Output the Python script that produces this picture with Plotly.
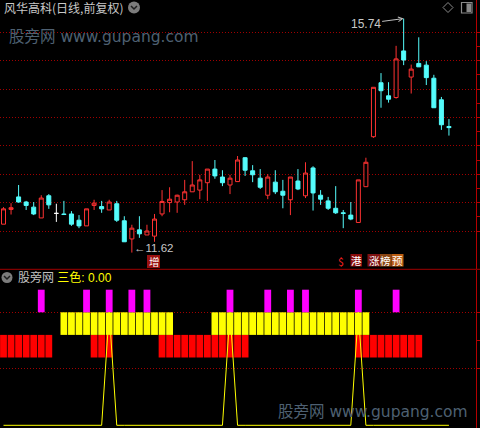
import plotly.graph_objects as go

# ---- daily bars (风华高科, 前复权) ----
bar_index = list(range(60))
opens = [12.12, 12.38, 12.60, 12.51, 12.42, 12.23, 12.62, 12.31, 12.30, 12.30,
         12.19, 12.09, 12.45, 12.43, 12.37, 12.48, 12.18, 11.86, 12.02, 11.93,
         11.91, 12.30, 12.50, 12.51, 12.55, 12.69, 12.72, 12.85, 13.09, 12.95,
         12.81, 12.87, 13.29, 13.06, 12.93, 12.63, 12.86, 12.70, 12.55, 12.88,
         12.62, 13.11, 12.63, 12.53, 12.40, 12.32, 12.28, 12.15, 12.78, 13.66,
         14.61, 14.38, 14.35, 15.17, 14.71, 14.95, 14.92, 14.69, 14.31, 13.84]
highs = [12.42, 12.49, 12.81, 12.53, 12.51, 12.63, 12.65, 12.48, 12.53, 12.35,
         12.28, 12.39, 12.55, 12.53, 12.55, 12.53, 12.26, 12.11, 12.26, 12.11,
         12.30, 12.72, 12.77, 12.64, 12.90, 13.23, 12.99, 13.09, 13.25, 13.07,
         12.99, 13.32, 13.30, 13.16, 13.09, 13.00, 13.07, 12.90, 12.95, 13.09,
         13.21, 13.14, 12.72, 12.60, 12.79, 12.37, 12.51, 12.90, 13.29, 14.53,
         14.78, 14.62, 15.26, 15.74, 14.93, 15.41, 14.99, 14.75, 14.36, 13.97]
lows = [12.12, 12.29, 12.50, 12.37, 12.28, 12.23, 12.39, 12.16, 12.29, 12.09,
        12.05, 12.09, 12.37, 12.32, 12.37, 12.16, 11.81, 11.62, 11.88, 11.93,
        11.81, 12.26, 12.33, 12.32, 12.46, 12.69, 12.56, 12.53, 12.92, 12.79,
        12.65, 12.87, 12.97, 12.86, 12.74, 12.56, 12.65, 12.40, 12.28, 12.72,
        12.58, 12.36, 12.46, 12.37, 12.30, 12.05, 12.19, 12.15, 12.78, 13.64,
        14.17, 14.26, 14.33, 14.92, 14.42, 14.89, 14.57, 14.17, 13.78, 13.68]
closes = [12.39, 12.41, 12.51, 12.45, 12.30, 12.58, 12.46, 12.31, 12.29, 12.12,
          12.09, 12.39, 12.49, 12.39, 12.51, 12.19, 11.81, 12.05, 11.95, 12.00,
          12.21, 12.52, 12.56, 12.63, 12.69, 12.81, 12.90, 13.09, 12.97, 12.85,
          12.93, 13.25, 13.07, 12.99, 12.77, 12.95, 12.69, 12.63, 12.95, 12.74,
          13.02, 12.67, 12.56, 12.40, 12.32, 12.31, 12.21, 12.90, 13.21, 14.53,
          14.47, 14.32, 15.03, 15.01, 14.85, 14.89, 14.70, 14.17, 13.87, 13.82]
flat_bar = 7          # open == close, drawn as a white cross

# ---- 三色 indicator ----
magenta_flag = [0, 0, 0, 0, 0, 1, 0, 0, 0, 0,
                0, 1, 0, 0, 1, 0, 0, 1, 0, 1,
                0, 0, 0, 0, 0, 0, 0, 0, 0, 0,
                1, 0, 0, 0, 0, 1, 0, 0, 1, 0,
                1, 0, 0, 0, 0, 0, 0, 1, 0, 0,
                0, 0, 1, 0, 0, 0, 0, 0, 0, 0]
yellow_flag = [0, 0, 0, 0, 0, 0, 0, 0, 1, 1,
               1, 1, 1, 1, 1, 1, 1, 1, 1, 1,
               1, 1, 1, 0, 0, 0, 0, 0, 1, 1,
               1, 1, 1, 1, 1, 1, 1, 1, 1, 1,
               1, 1, 1, 1, 1, 1, 1, 1, 1, 0,
               0, 0, 0, 0, 0, 0, 0, 0, 0, 0]
red_flag = [1, 1, 1, 1, 1, 1, 1, 0, 0, 0,
            0, 0, 1, 1, 1, 0, 0, 0, 0, 0,
            0, 1, 1, 1, 1, 1, 1, 1, 1, 1,
            1, 1, 1, 0, 0, 0, 0, 0, 0, 0,
            0, 0, 0, 0, 0, 0, 0, 1, 1, 1,
            1, 1, 1, 1, 1, 1, 0, 0, 0, 0]
sanse_line = [0, 0, 0, 0, 0, 0, 0, 0, 0, 0,
              0, 0, 0, 0, 100, 0, 0, 0, 0, 0,
              0, 0, 0, 0, 0, 0, 0, 0, 0, 0,
              100, 0, 0, 0, 0, 0, 0, 0, 0, 0,
              0, 0, 0, 0, 0, 0, 0, 100, 0, 0,
              0, 0, 0, 0, 0, 0, 0, 0, 0, 0]

# stick-line bands of the indicator (low, high)
MAGENTA_BAND = (100, 120)
YELLOW_BAND = (80, 100)
RED_BAND = (60, 80)

W, H = 480, 428
AXIS_RED = "#b40000"
GRID_RED = "#a00000"
UP_RED = "#ff3232"
DOWN_CYAN = "#54fcfc"
GRID_DASH = "1px,2px"
CJK = "Liberation Sans, Noto Sans CJK SC"
STEP = 7.55           # pixels per bar
X0 = 3.5              # pixel centre of the first bar


def px(x):
    return x / W


def py(y):
    return 1 - y / H


fig = go.Figure()

main_idx = [i for i in bar_index if i != flat_bar]
fig.add_trace(go.Candlestick(
    x=main_idx,
    open=[opens[i] for i in main_idx],
    high=[highs[i] for i in main_idx],
    low=[lows[i] for i in main_idx],
    close=[closes[i] for i in main_idx],
    increasing=dict(line=dict(color=UP_RED, width=1), fillcolor="#000000"),
    decreasing=dict(line=dict(color=DOWN_CYAN, width=1), fillcolor=DOWN_CYAN),
    whiskerwidth=0, xaxis="x", yaxis="y", hoverinfo="skip",
))
fig.add_trace(go.Candlestick(
    x=[flat_bar], open=[opens[flat_bar]], high=[highs[flat_bar]],
    low=[lows[flat_bar]], close=[closes[flat_bar]],
    increasing=dict(line=dict(color="#ffffff", width=1), fillcolor="#ffffff"),
    decreasing=dict(line=dict(color="#ffffff", width=1), fillcolor="#ffffff"),
    whiskerwidth=0, xaxis="x", yaxis="y", hoverinfo="skip",
))


def band_trace(flags, band, color):
    xs = [i for i, f in zip(bar_index, flags) if f]
    return go.Bar(
        x=xs, y=[band[1] - band[0]] * len(xs), base=[band[0]] * len(xs),
        width=0.9, marker=dict(color=color, line=dict(width=0)),
        xaxis="x2", yaxis="y2", hoverinfo="skip",
    )


fig.add_trace(band_trace(red_flag, RED_BAND, "#ff0000"))
fig.add_trace(band_trace(yellow_flag, YELLOW_BAND, "#ffff00"))
fig.add_trace(band_trace(magenta_flag, MAGENTA_BAND, "#ff00ff"))
fig.add_trace(go.Scatter(
    x=bar_index, y=sanse_line, mode="lines",
    line=dict(color="#ffff00", width=1), xaxis="x2", yaxis="y2", hoverinfo="skip",
))

x_range = [-X0 / STEP, (476 - X0) / STEP]
xdom = [0, 476 / W]

axis_common = dict(side="right", showline=True, linecolor=AXIS_RED, linewidth=1,
                   ticks="outside", ticklen=4, tickwidth=1, tickcolor=AXIS_RED,
                   showticklabels=False, zeroline=False,
                   showgrid=True, gridcolor=GRID_RED, gridwidth=1, griddash=GRID_DASH)

fig.update_layout(
    width=W, height=H, margin=dict(l=0, r=0, t=0, b=0, pad=0),
    paper_bgcolor="#000000", plot_bgcolor="#000000",
    showlegend=False, barmode="overlay", boxgap=0.47, boxgroupgap=0,
    font=dict(family=CJK, color="#c0c0c0", size=12),
    xaxis=dict(domain=xdom, range=x_range, visible=False, rangeslider=dict(visible=False),
               anchor="y"),
    xaxis2=dict(domain=xdom, range=x_range, visible=False, anchor="y2"),
    yaxis=dict(domain=[1 - 269 / H, 1], range=[12 - 38 / 56.8, 12 + 231 / 56.8],
               anchor="x", tickvals=[12 + 0.5 * k for k in range(8)],
               minor=dict(tickvals=[12.25 + 0.5 * k for k in range(7)], ticks="outside",
                          ticklen=4, tickcolor=AXIS_RED, showgrid=False),
               **axis_common),
    yaxis2=dict(domain=[0, (H - 270) / H],
                range=[100 - (428 - 312.3) / 1.13, 100 + (312.3 - 270) / 1.13],
                anchor="x2", tickvals=[50, 100],
                minor=dict(tickvals=[75], ticks="outside", ticklen=4,
                           tickcolor=AXIS_RED, showgrid=False),
                **axis_common),
)

# panel separator
fig.add_shape(type="line", xref="paper", yref="paper", x0=0, x1=1,
              y0=py(269.3), y1=py(269.3), line=dict(color="#a00000", width=1))

# menu circles with chevrons
for cx, cy, r in [(134, 7.5, 6), (7, 277.5, 5.5)]:
    fig.add_shape(type="circle", xref="paper", yref="paper",
                  x0=px(cx - r), x1=px(cx + r), y0=py(cy + r), y1=py(cy - r),
                  fillcolor="#7c7c7c", line=dict(width=0))
    fig.add_shape(type="path", xref="paper", yref="paper",
                  path=f"M {px(cx - 3)} {py(cy - 1.5)} L {px(cx)} {py(cy + 1.5)} "
                       f"L {px(cx + 3)} {py(cy - 1.5)}",
                  line=dict(color="#1e1e1e", width=1.5))

# top-right tool icons
fig.add_shape(type="path", xref="paper", yref="paper",
              path=f"M {px(448)} {py(2.5)} L {px(453)} {py(7.5)} L {px(448)} {py(12.5)} "
                   f"L {px(443)} {py(7.5)} Z",
              line=dict(color="#8a8a8a", width=1))
fig.add_shape(type="rect", xref="paper", yref="paper",
              x0=px(461.5), x1=px(472), y0=py(13), y1=py(2.5),
              line=dict(color="#8a8a8a", width=1.2))
fig.add_shape(type="rect", xref="paper", yref="paper",
              x0=px(466.5), x1=px(471), y0=py(12), y1=py(3.5),
              fillcolor="#8a8a8a", line=dict(width=0))

ann = []
ann.append(dict(text="风华高科(日线,前复权)", xref="paper", yref="paper",
                x=px(2), y=py(7.5), xanchor="left", yanchor="middle",
                font=dict(size=12, color="#c8c8c8", family="Noto Sans CJK SC"), showarrow=False))
for wy, wx in [(37, 7), (412, 276)]:
    ann.append(dict(text="股旁网 www.gupang.com", xref="paper", yref="paper",
                    x=px(wx), y=py(wy), xanchor="left", yanchor="middle",
                    font=dict(size=15.5, color="#4e6072",
                              family="DejaVu Sans, Noto Sans CJK SC"),
                    showarrow=False))
ann.append(dict(text='股旁网 <span style="color:#ffff00">三色: 0.00</span>',
                xref="paper", yref="paper", x=px(16), y=py(277.5),
                xanchor="left", yanchor="middle",
                font=dict(size=12, color="#c0c0c0", family=CJK), showarrow=False))

# extreme price labels
hi_i = max(bar_index, key=lambda i: highs[i])
lo_i = min(bar_index, key=lambda i: lows[i])
ann.append(dict(text=f"{highs[hi_i]:.2f}", x=hi_i, y=highs[hi_i], xref="x", yref="y",
                showarrow=True, ax=-38, ay=5, arrowhead=5, arrowsize=0.9, arrowwidth=1,
                arrowcolor="#c0c0c0", standoff=0,
                font=dict(size=12, color="#c8c8c8", family="Liberation Sans")))
ann.append(dict(text=f"←{lows[lo_i]:.2f}", x=lo_i, y=lows[lo_i], xref="x", yref="y",
                xanchor="left", yanchor="middle", showarrow=False, yshift=5,
                font=dict(size=11.5, color="#c8c8c8", family="Liberation Sans")))

# signal badges along the bottom of the price panel: (label, bar, box px span, bg, fg)
badges = [("增", 20, (147, 160, 255, 268), "#9a1010", "#ffffff"),
          ("$", 44.7, None, None, "#ff2020"),
          ("港", 46.7, (350.5, 362, 254, 266.5), "#8a0c0c", "#ffffff"),
          ("涨", 49.1, (367.5, 380, 254, 266.5), "#7e1212", "#ffffff"),
          ("榜", 50.65, (380, 391.5, 254, 266.5), "#8a4614", "#ffffff"),
          ("预", 52.2, (391.5, 403.5, 254, 266.5), "#bb5e12", "#ffffff")]
for label, xi, box, bg, fg in badges:
    if box:
        fig.add_shape(type="rect", xref="paper", yref="paper",
                      x0=px(box[0]), x1=px(box[1]), y0=py(box[3]), y1=py(box[2]),
                      fillcolor=bg, line=dict(width=0), layer="above")
        cy = (box[2] + box[3]) / 2
    else:
        cy = 261
    ann.append(dict(text=label, x=xi, y=py(cy), xref="x", yref="paper",
                    xanchor="center", yanchor="middle", showarrow=False, borderpad=0,
                    font=dict(size=10.5, color=fg, family="Noto Sans CJK SC")))

fig.update_layout(annotations=ann)

fig.write_html("out.html")
